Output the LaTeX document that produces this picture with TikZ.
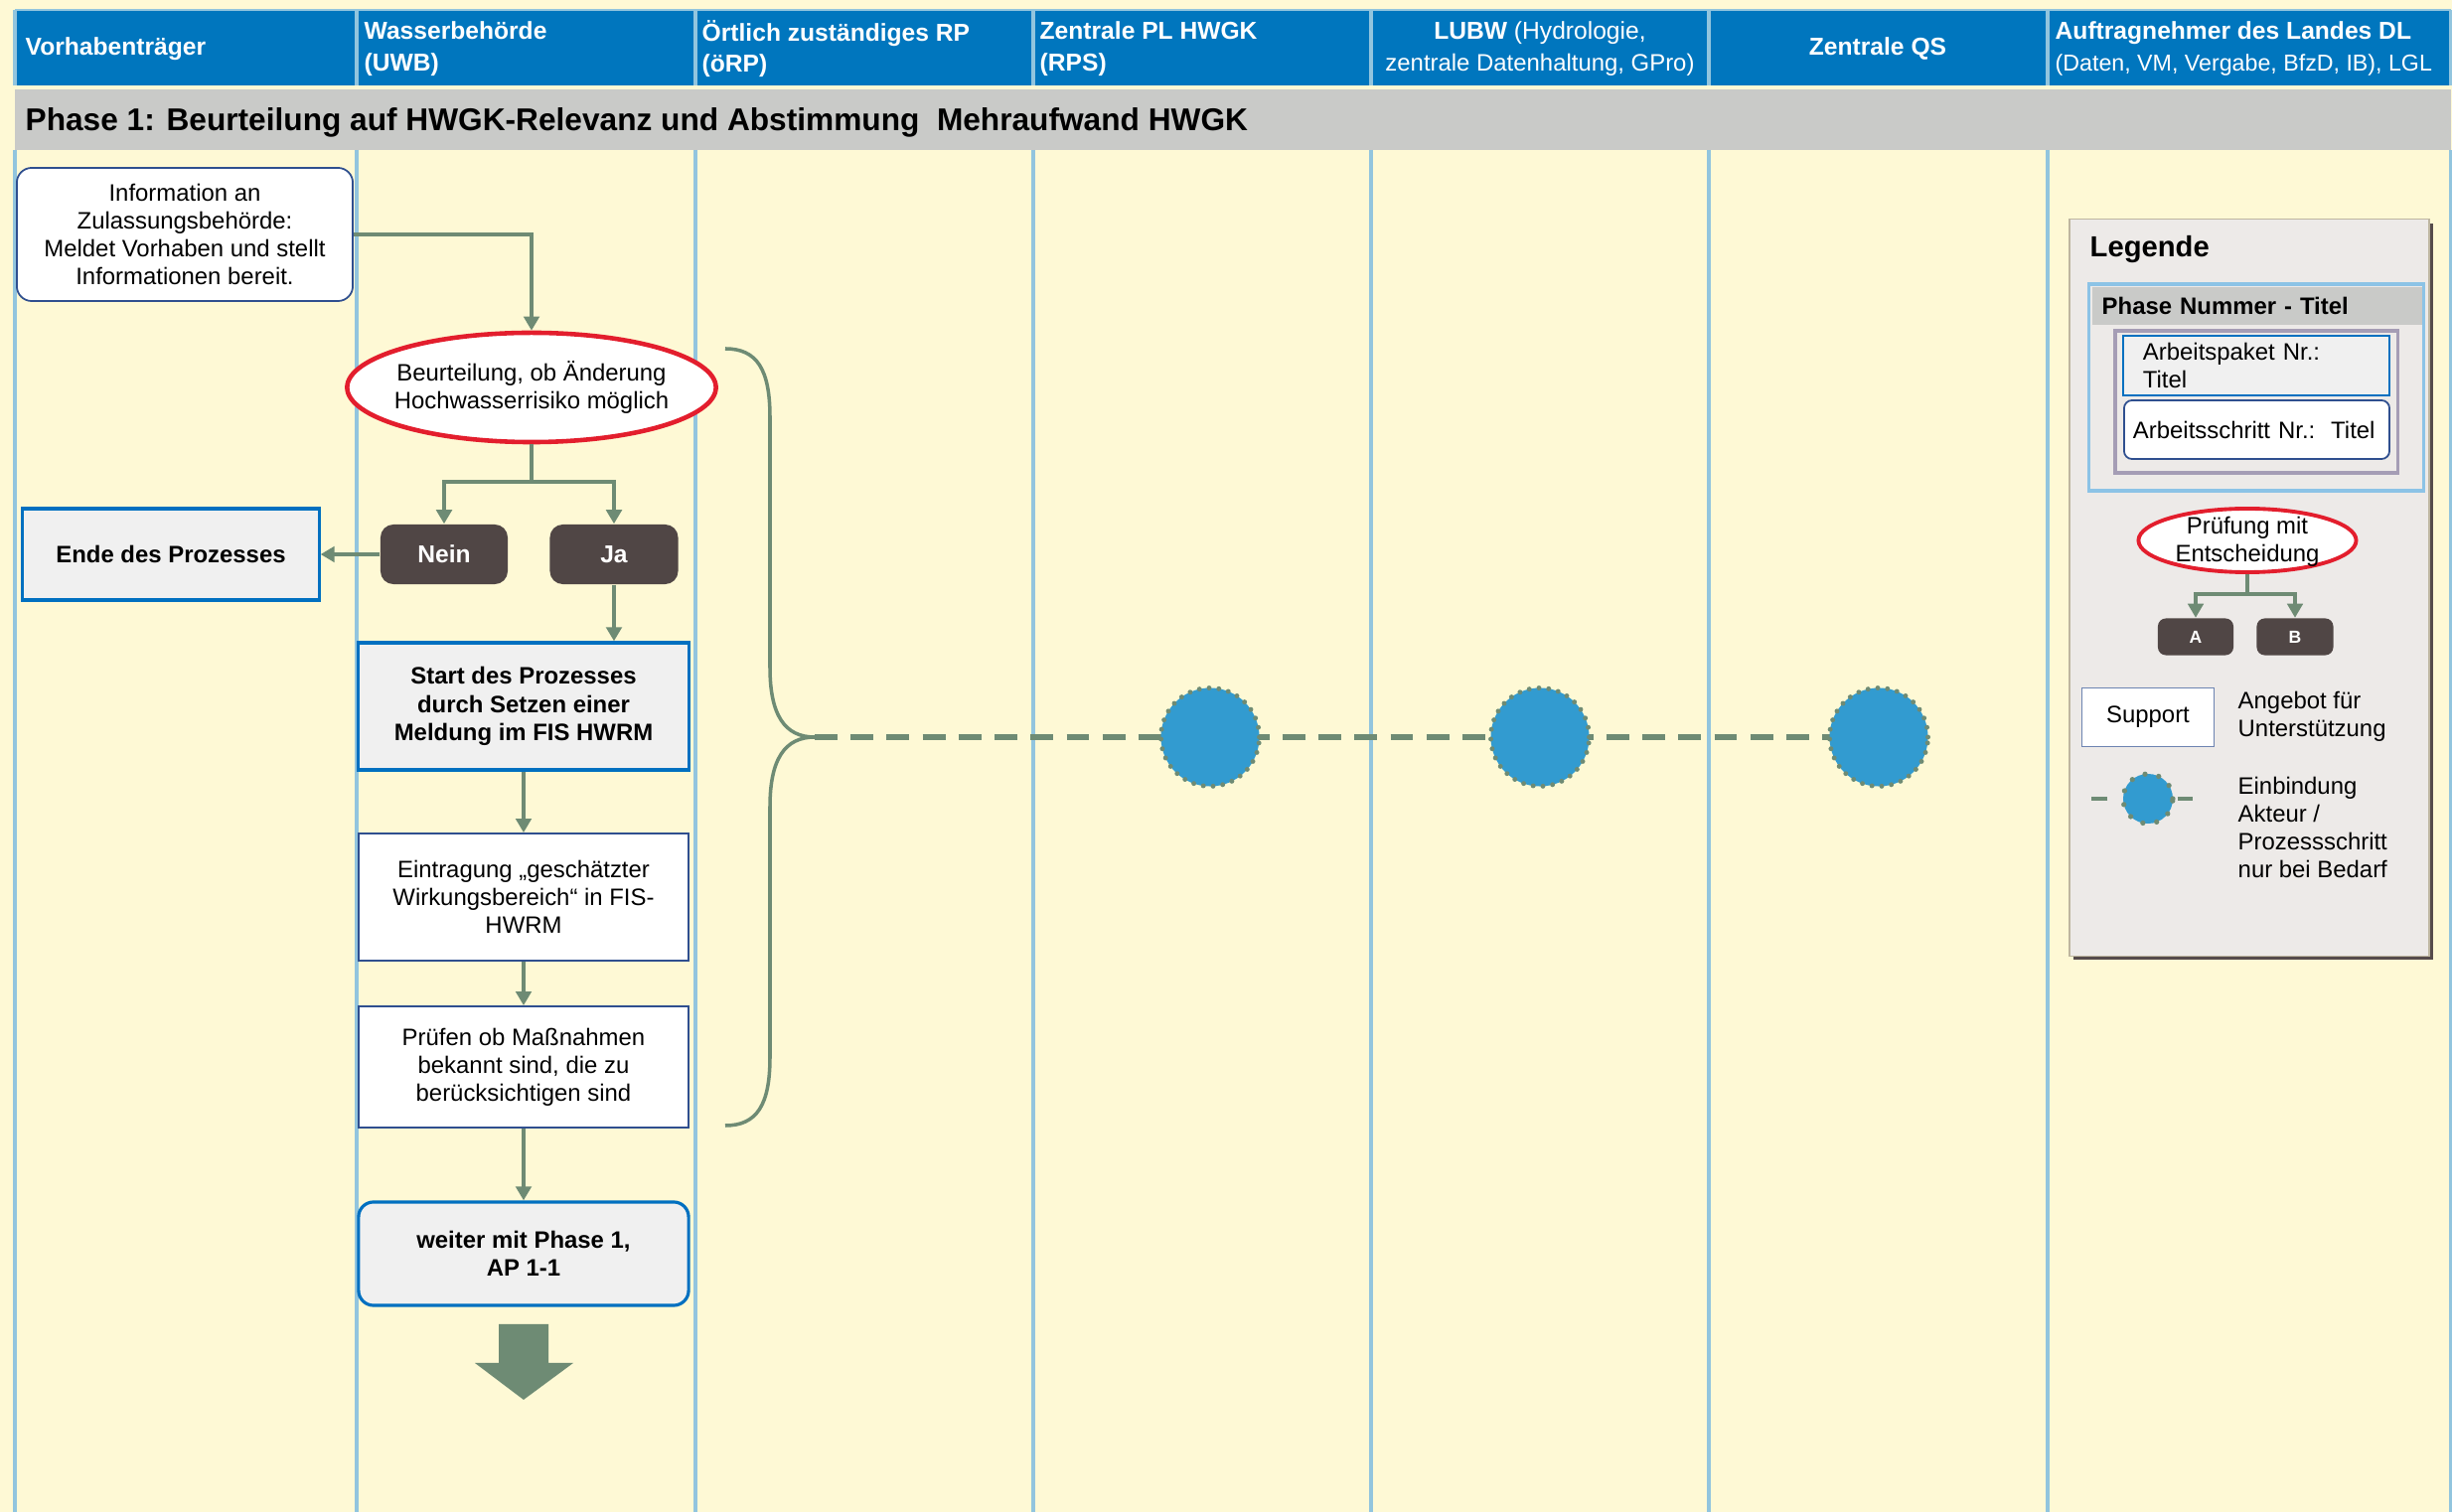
\documentclass[tikz,border=0pt]{standalone}
\usepackage{fontspec}
\setmainfont{Liberation Sans}
\usetikzlibrary{arrows.meta,shapes.geometric}
\definecolor{lanebg}{RGB}{254,249,213}
\definecolor{headblue}{RGB}{0,118,190}
\definecolor{laneblue}{RGB}{146,197,222}
\definecolor{phasegray}{RGB}{201,202,200}
\definecolor{flowgreen}{RGB}{110,139,116}
\definecolor{decred}{RGB}{227,30,45}
\definecolor{darkbox}{RGB}{80,70,69}
\definecolor{boxblue}{RGB}{0,112,192}
\definecolor{boxgray}{RGB}{240,240,240}
\definecolor{stepblue}{RGB}{47,79,143}
\definecolor{dotblue}{RGB}{50,155,208}
\definecolor{legfill}{RGB}{237,234,232}
\definecolor{legshadow}{RGB}{86,75,75}
\definecolor{legframe}{RGB}{190,182,160}
\definecolor{legblue}{RGB}{140,195,230}
\definecolor{legpurple}{RGB}{165,157,181}
\tikzstyle{txt}=[font=\fontsize{6.8}{8}\selectfont]
\tikzstyle{headtext}=[text=white,font=\fontsize{7}{9}\selectfont,align=left,anchor=west,inner sep=0pt]
\tikzstyle{flowline}=[flowgreen,line width=1pt]
\tikzstyle{flow}=[flowline,-{Triangle[length=4pt,width=4.4pt]}]
\tikzstyle{infobox}=[draw=stepblue,fill=white,rounded corners=0.15cm,line width=0.5pt,align=center,inner sep=0pt,txt]
\tikzstyle{stepbox}=[draw=stepblue,fill=white,line width=0.5pt,align=center,inner sep=0pt,txt,minimum width=3.32cm]
\tikzstyle{keybox}=[draw=boxblue,fill=boxgray,line width=0.9pt,align=center,inner sep=0pt,font=\fontsize{6.8}{8}\selectfont\bfseries]
\tikzstyle{decision}=[ellipse,draw=decred,line width=1.3pt,fill=white,inner sep=0pt]
\tikzstyle{answer}=[fill=darkbox,rounded corners=0.13cm,text=white,font=\fontsize{7}{8}\selectfont\bfseries,inner sep=0pt]
\tikzstyle{actor}=[circle,fill=dotblue,draw=flowgreen,line width=1.4pt,dash pattern=on 0pt off 2.8pt,line cap=round,inner sep=0pt,minimum size=0.99cm]
\tikzstyle{einbind}=[flowgreen,line width=1.6pt,dash pattern=on 6.5pt off 3.8pt]
\begin{document}
\begin{tikzpicture}[x=0.01cm,y=-0.01cm]
\useasboundingbox (0,0) rectangle (2468,1522);
\fill[lanebg] (0,0) rectangle (2468,1522);
\fill[headblue] (15,10) rectangle (2467,86);
\fill[phasegray] (15,90) rectangle (2467,151);
\draw[laneblue,line width=0.6pt] (15,10) -- (2467,10);
\foreach \x in {15,359,700,1040,1380,1720,2061,2467}{
  \draw[laneblue,line width=0.9pt] (\x,10) -- (\x,86);
  \draw[laneblue,line width=0.9pt] (\x,151) -- (\x,1522);
}
\node[headtext,font=\fontsize{7}{9}\selectfont\bfseries] (hvt) at (25,49) {Vorhabenträger};
\node[headtext,font=\fontsize{7}{9}\selectfont\bfseries] (huwb) at (366,49) {Wasserbehörde\\(UWB)};
\node[headtext,font=\fontsize{7}{9}\selectfont\bfseries] (horp) at (706,49) {Örtlich zuständiges RP\\(öRP)};
\node[headtext,font=\fontsize{7}{9}\selectfont\bfseries] (hrps) at (1046,49) {Zentrale PL HWGK\\(RPS)};
\node[headtext,anchor=center,align=center] (hlubw) at (1550,49) {\textbf{LUBW} (Hydrologie,\\{\fontsize{6.8}{9}\selectfont zentrale Datenhaltung, GPro)}};
\node[headtext,anchor=center] (hqs) at (1890,49) {\textbf{Zentrale QS}};
\node[headtext] (hdl) at (2068,49) {\textbf{Auftragnehmer des Landes DL}\\{\fontsize{6.6}{9}\selectfont (Daten, VM, Vergabe, BfzD, IB), LGL}};
\node[anchor=west,inner sep=0pt,font=\fontsize{9}{10}\selectfont\bfseries] (phase) at (25,123) {Phase 1: Beurteilung auf HWGK-Relevanz und Abstimmung \ Mehraufwand HWGK};

\node[infobox,minimum width=3.38cm,minimum height=1.34cm] (info) at (186,236) {Information an\\Zulassungsbehörde:\\Meldet Vorhaben und stellt\\Informationen bereit.};
\node[decision,minimum width=3.71cm,minimum height=1.1cm] (beurt) at (535,390) {};
\node[txt,align=center,inner sep=0pt] (beurttext) at (beurt) {Beurteilung, ob Änderung\\Hochwasserrisiko möglich};
\coordinate (split) at (535,485);
\node[answer,minimum width=1.28cm,minimum height=0.6cm] (nein) at (447,558) {Nein};
\node[answer,minimum width=1.29cm,minimum height=0.6cm] (ja) at (618,558) {Ja};
\node[keybox,minimum width=2.98cm,minimum height=0.92cm] (ende) at (172,558) {Ende des Prozesses};
\node[keybox,minimum width=3.32cm,minimum height=1.28cm] (start) at (527,711) {Start des Prozesses\\durch Setzen einer\\Meldung im FIS HWRM};
\node[stepbox,minimum height=1.28cm] (eintrag) at (527,903) {Eintragung „geschätzter\\Wirkungsbereich“ in FIS-\\HWRM};
\node[stepbox,minimum height=1.22cm] (massn) at (527,1074) {Prüfen ob Maßnahmen\\bekannt sind, die zu\\berücksichtigen sind};
\node[keybox,rounded corners=0.15cm,minimum width=3.32cm,minimum height=1.04cm] (weiter) at (527,1262) {weiter mit Phase 1,\\AP 1-1};

\draw[flow] (info.east) -| (beurt.north);
\draw[flowline] (beurt.south) -- (split);
\draw[flow] (split) -| (nein.north);
\draw[flow] (split) -| (ja.north);
\draw[flow] (nein.west) -- (ende.east);
\draw[flow] (ja.south) -- (ja.south |- start.north);
\draw[flow] (start.south) -- (eintrag.north);
\draw[flow] (eintrag.south) -- (massn.north);
\draw[flow] (massn.south) -- (weiter.north);
\fill[flowgreen] (502,1333) -- (552,1333) -- (552,1372) -- (577,1372) -- (527,1409) -- (478,1372) -- (502,1372) -- cycle;

\draw[flowline] (730,351) .. controls (762,351) and (775,372) .. (775,420) -- (775,672) .. controls (775,720) and (790,742) .. (820,742) .. controls (790,742) and (775,764) .. (775,812) -- (775,1064) .. controls (775,1112) and (762,1133) .. (730,1133);
\coordinate (bracetip) at (820,742);
\coordinate (qspos) at (1891,742);
\draw[einbind] (bracetip) -- (qspos);
\node[actor] (pl) at (1218,742) {};
\node[actor] (lubw) at (1550,742) {};
\node[actor] (qs) at (qspos) {};

\fill[legshadow] (2087,225) rectangle (2449,966);
\node[draw=legframe,fill=legfill,line width=0.4pt,minimum width=3.62cm,minimum height=7.41cm,inner sep=0pt] (leg) at (2264,591.5) {};
\node[anchor=base west,inner sep=0pt,font=\fontsize{8.3}{10}\selectfont\bfseries] (legtitle) at (2103,259) {Legende};
\node[draw=legblue,line width=0.9pt,fill=legfill,minimum width=3.36cm,minimum height=2.08cm,inner sep=0pt] (legphase) at (2271,390) {};
\node[fill=phasegray,anchor=north west,minimum width=3.32cm,minimum height=0.38cm,text width=3.12cm,inner xsep=0.1cm,inner ysep=0pt,align=left,font=\fontsize{6.8}{8}\selectfont\bfseries] (legphasetitle) at (2105,288) {Phase Nummer - Titel};
\node[draw=legpurple,line width=0.9pt,minimum width=2.84cm,minimum height=1.43cm,inner sep=0pt] (legwp) at (2271,404.5) {};
\node[draw=boxblue,fill=boxgray,line width=0.7pt,minimum width=2.68cm,minimum height=0.6cm,text width=2.28cm,inner xsep=0.2cm,inner ysep=0pt,align=left,txt] (legap) at (2271,368) {Arbeitspaket Nr.:\\Titel};
\node[draw=stepblue,fill=white,rounded corners=0.08cm,line width=0.5pt,minimum width=2.67cm,minimum height=0.59cm,text width=2.49cm,inner xsep=0.09cm,inner ysep=0pt,align=left,txt] (legas) at (2271.5,432.5) {Arbeitsschritt Nr.:\ \ Titel};
\node[decision,minimum width=2.19cm,minimum height=0.64cm,line width=1.1pt] (legdec) at (2262,544) {};
\node[txt,align=center,inner sep=0pt] (legdectext) at (2262,545) {Prüfung mit\\Entscheidung};
\coordinate (legsplit) at (2262,598);
\node[answer,font=\fontsize{5}{6}\selectfont\bfseries,rounded corners=0.08cm,minimum width=0.76cm,minimum height=0.37cm] (lega) at (2210,641) {A};
\node[answer,font=\fontsize{5}{6}\selectfont\bfseries,rounded corners=0.08cm,minimum width=0.77cm,minimum height=0.37cm] (legb) at (2310,641) {B};
\draw[flowline,line width=0.9pt] (legdec.south) -- (legsplit);
\draw[flow,line width=0.9pt] (legsplit) -| (lega.north);
\draw[flow,line width=0.9pt] (legsplit) -| (legb.north);
\node[draw=stepblue!70,fill=white,line width=0.5pt,minimum width=1.33cm,minimum height=0.59cm,inner sep=0pt,txt] (legsup) at (2162,722) {Support};
\node[txt,anchor=west,align=left,inner sep=0pt] (legsuptext) at (2252,721) {Angebot für\\Unterstützung};
\node[actor,minimum size=0.5cm,line width=1.5pt,dash pattern=on 0pt off 4pt] (legdot) at (2162,804) {};
\draw[flowline,line width=1.4pt] ([xshift=-0.13cm]legdot.west) -- ++(-16,0);
\draw[flowline,line width=1.4pt] ([xshift=0.02cm]legdot.east) -- ++(15,0);
\node[txt,anchor=west,align=left,inner sep=0pt] (legdottext) at (2252,833) {Einbindung\\Akteur /\\Prozessschritt\\nur bei Bedarf};
\end{tikzpicture}
\end{document}
